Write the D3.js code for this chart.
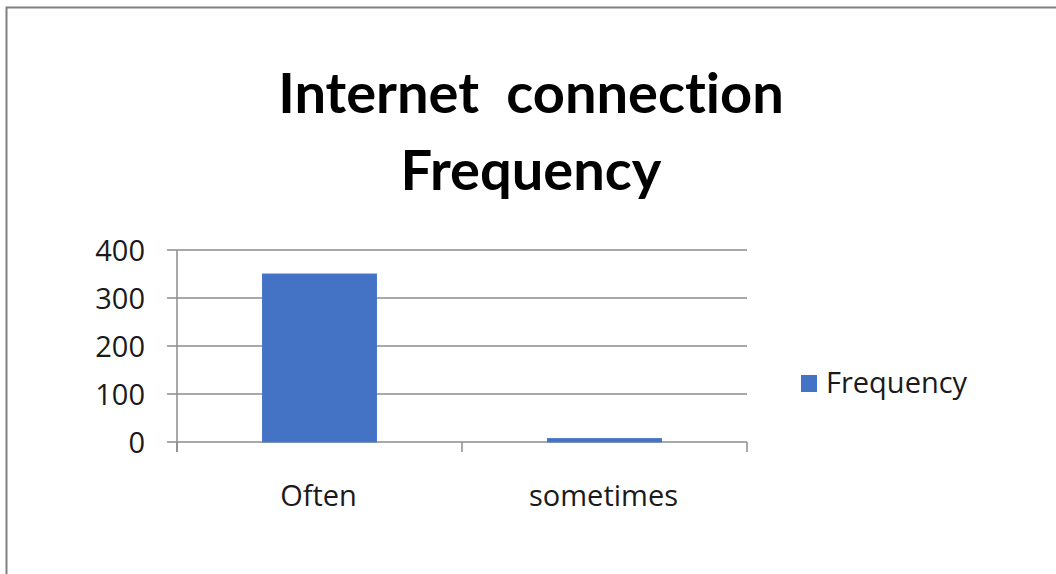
<!DOCTYPE html>
<html><head><meta charset="utf-8">
<script src="https://cdn.jsdelivr.net/npm/d3@7"></script>
<style>html,body{margin:0;padding:0;background:#fff;}svg{display:block;}text{font-variant-ligatures:none;}</style>
</head><body>
<script>
const categories = ["Often", "sometimes"];
const values = [350, 7];
const yTicks = [0, 100, 200, 300, 400];
const seriesName = "Frequency";
const titleLines = ["Internet  connection", "Frequency"];

const W = 1056, H = 574;
const svg = d3.select("body").append("svg").attr("width", W).attr("height", H);
const font = "'Open Sans', sans-serif";
const titleFont = "Lato, 'Open Sans', sans-serif";

// frame (top and left lines)
svg.append("path").attr("d", `M6.5,${H} L6.5,7.5 L${W},7.5`).attr("fill","none").attr("stroke","#808080").attr("stroke-width",2);

const x0 = 177, x1 = 747, yTop = 250, yBot = 442;
const x = d3.scaleBand().domain(categories).range([x0, x1]).paddingInner(0.6).paddingOuter(0.3);
const y = d3.scaleLinear().domain([0, 400]).range([yBot, yTop]);

// gridlines
svg.append("g").selectAll("line").data(yTicks).join("line")
  .attr("x1", x0 - 10).attr("x2", x1).attr("y1", d => y(d)).attr("y2", d => y(d))
  .attr("stroke", "#8c8c8c").attr("stroke-width", 1.5);

// y axis line
svg.append("line").attr("x1", x0).attr("x2", x0).attr("y1", yTop).attr("y2", yBot + 10)
  .attr("stroke", "#8c8c8c").attr("stroke-width", 1.5);

// x category boundary ticks
const bounds = [x0, (x0 + x1) / 2, x1];
svg.append("g").selectAll("line").data(bounds).join("line")
  .attr("x1", d => d).attr("x2", d => d).attr("y1", yBot).attr("y2", yBot + 10)
  .attr("stroke", "#8c8c8c").attr("stroke-width", 1.5);

// bars
svg.append("g").selectAll("rect").data(values).join("rect")
  .attr("x", (d, i) => x(categories[i])).attr("width", x.bandwidth())
  .attr("y", d => y(d)).attr("height", d => yBot - y(d))
  .attr("fill", "#4472C4").attr("stroke", "#4a78cc").attr("stroke-width", 1);

// y tick labels
svg.append("g").selectAll("text").data(yTicks).join("text")
  .attr("x", 145).attr("y", d => y(d) + 11).attr("text-anchor", "end")
  .attr("font-family", font).attr("font-size", 29).attr("fill", "#1a1a1a").text(d => d);

// x labels
const step = (x1 - x0) / categories.length;
svg.append("g").selectAll("text").data(categories).join("text")
  .attr("x", (d, i) => x0 + step * (i + 0.5) - 1).attr("y", 506).attr("text-anchor", "middle")
  .attr("font-family", font).attr("font-size", 29).attr("fill", "#1a1a1a").text(d => d);

// title
svg.append("g").selectAll("text").data(titleLines).join("text")
  .attr("x", 531).attr("y", (d, i) => 113 + i * 77).attr("text-anchor", "middle")
  .attr("font-family", titleFont).attr("font-weight", "bold").attr("font-size", 56)
  .attr("fill", "#000").style("white-space", "pre").text(d => d);

// legend
svg.append("rect").attr("x", 801).attr("y", 375).attr("width", 16).attr("height", 17).attr("fill", "#4472C4");
svg.append("text").attr("x", 826).attr("y", 393).attr("font-family", font).attr("font-size", 29)
  .attr("fill", "#1a1a1a").text(seriesName);
</script>
</body></html>
